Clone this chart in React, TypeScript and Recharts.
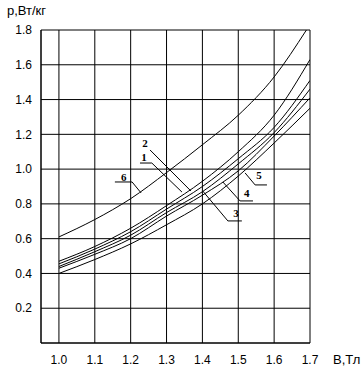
import {
  LineChart,
  Line,
  XAxis,
  YAxis,
  CartesianGrid,
  ReferenceLine,
  ReferenceDot,
  Label,
} from 'recharts'

// induction, T
const B = [1.0, 1.1, 1.2, 1.3, 1.4, 1.5, 1.6, 1.7]
const B6 = [1.0, 1.1, 1.2, 1.3, 1.4, 1.5, 1.6, 1.69]

// specific losses, W/kg
const p1 = [0.47, 0.555, 0.66, 0.79, 0.93, 1.1, 1.31, 1.63]
const p2 = [0.455, 0.54, 0.64, 0.77, 0.9, 1.06, 1.24, 1.51]
const p3 = [0.44, 0.525, 0.62, 0.75, 0.87, 1.03, 1.21, 1.46]
const p4 = [0.43, 0.51, 0.6, 0.73, 0.85, 0.99, 1.19, 1.41]
const p5 = [0.4, 0.48, 0.57, 0.68, 0.8, 0.96, 1.15, 1.35]
const p6 = [0.61, 0.71, 0.83, 0.98, 1.14, 1.31, 1.53, 1.8]

const xTicks = [1.0, 1.1, 1.2, 1.3, 1.4, 1.5, 1.6, 1.7]
const yTicks = [0.2, 0.4, 0.6, 0.8, 1.0, 1.2, 1.4, 1.6, 1.8]

// curve numbers and where they sit (B, p)
const curveNames = ['1', '2', '3', '4', '5', '6']
const nameB = [1.237, 1.24, 1.494, 1.524, 1.558, 1.181]
const nameP = [1.07, 1.15, 0.748, 0.863, 0.966, 0.955]

// leader lines: [B0, p0, B1, p1]
const leaders = [
  [1.226, 1.035, 1.259, 1.035],
  [1.259, 1.035, 1.343, 0.868],
  [1.254, 1.11, 1.368, 0.874],
  [1.401, 0.874, 1.471, 0.702],
  [1.471, 0.702, 1.51, 0.702],
  [1.457, 0.926, 1.505, 0.817],
  [1.505, 0.817, 1.541, 0.817],
  [1.519, 0.978, 1.547, 0.909],
  [1.547, 0.909, 1.58, 0.909],
  [1.156, 0.926, 1.204, 0.926],
  [1.204, 0.926, 1.229, 0.863],
]

const breakAt = [0.9595, 0.9695]

const toRows = (xs: number[], ys: number[]) => xs.map((b, i) => ({ b, p: ys[i] }))

const series = [p1, p2, p3, p4, p5].map((ys) => toRows(B, ys)).concat([toRows(B6, p6)])

const font = '"Liberation Sans", Arial, sans-serif'

function Wavy(props: any) {
  const { x1, y1, y2 } = props
  const pts: string[] = []
  const step = 18
  let k = 0
  for (let y = y1; y <= y2; y += step) {
    pts.push(`${x1 + (k % 2 === 0 ? 0 : 1.3)},${y}`)
    k++
  }
  pts.push(`${x1},${y2}`)
  return <polyline points={pts.join(' ')} fill="none" stroke="#000" strokeWidth={1} />
}

export default function App() {
  return (
    <div style={{ position: 'fixed', top: 0, left: 0, background: '#fff' }}>
      <LineChart width={364} height={369} margin={{ top: 30, right: 54, left: 0, bottom: 0 }}>
        <CartesianGrid stroke="#000" strokeWidth={1} />
        <XAxis
          dataKey="b"
          type="number"
          domain={[0.95, 1.7]}
          ticks={xTicks}
          height={26}
          tickSize={0}
          tickMargin={12}
          tickFormatter={(v) => v.toFixed(1)}
          axisLine={{ stroke: '#000' }}
          tick={{ fill: '#000', fontSize: 12, fontFamily: font }}
          allowDataOverflow
        >
          <Label
            value="B,Тл"
            position="right"
            offset={23}
            dy={3}
            style={{ fill: '#000', fontSize: 13, fontFamily: font }}
          />
        </XAxis>
        <YAxis
          type="number"
          domain={[0, 1.8]}
          ticks={yTicks}
          width={41}
          tickSize={0}
          tickMargin={9}
          tickFormatter={(v) => v.toFixed(1)}
          axisLine={{ stroke: '#000' }}
          tick={{ fill: '#000', fontSize: 12, fontFamily: font }}
          allowDataOverflow
        >
          <Label
            value="p,Вт/кг"
            position="top"
            offset={15}
            dx={6}
            style={{ fill: '#000', fontSize: 13, fontFamily: font }}
          />
        </YAxis>
        {breakAt.map((x) => (
          <ReferenceLine key={x} x={x} shape={Wavy} ifOverflow="visible" />
        ))}
        {series.map((rows, i) => (
          <Line
            key={i}
            data={rows}
            dataKey="p"
            type="monotone"
            stroke="#000"
            strokeWidth={1}
            dot={false}
            isAnimationActive={false}
          />
        ))}
        {leaders.map((s, i) => (
          <ReferenceLine
            key={'l' + i}
            segment={[
              { x: s[0], y: s[1] },
              { x: s[2], y: s[3] },
            ]}
            stroke="#000"
            strokeWidth={1}
            ifOverflow="visible"
          />
        ))}
        {curveNames.map((n, i) => (
          <ReferenceDot
            key={'n' + n}
            x={nameB[i]}
            y={nameP[i]}
            ifOverflow="visible"
            shape={(props: any) => (
              <text
                x={props.cx}
                y={props.cy}
                textAnchor="middle"
                dominantBaseline="central"
                style={{
                  fontSize: 11,
                  fontWeight: 700,
                  fontFamily: '"Liberation Serif", "Times New Roman", serif',
                  fill: '#000',
                }}
              >
                {n}
              </text>
            )}
          />
        ))}
      </LineChart>
    </div>
  )
}
